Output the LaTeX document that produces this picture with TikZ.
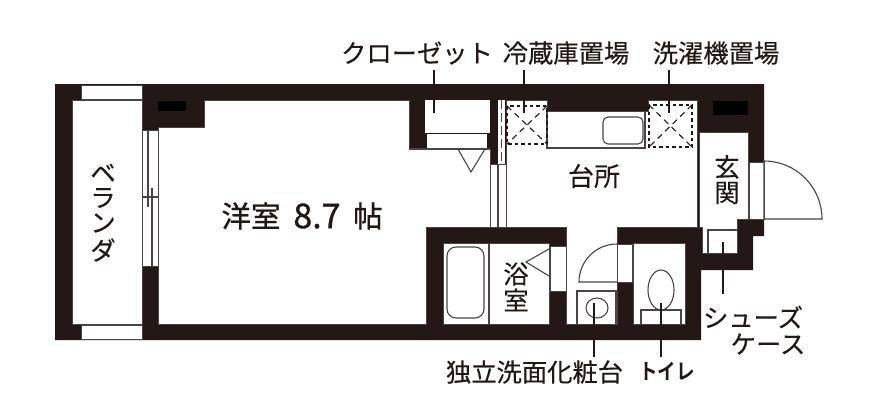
\documentclass[tikz,border=0pt]{standalone}
\usepackage{fontspec}
\setmainfont{Noto Sans CJK JP}[FakeBold=0.25]
\newfontfamily\heavyjp{Noto Sans CJK JP}[FakeBold=0.9]
\newfontfamily\boldjp{Noto Sans CJK JP Bold}
\tikzset{
  wall/.style={fill=wallc,draw=none},
  room/.style={fill=white,draw=linec,line width=1pt},
  thin/.style={draw=linec,line width=1.1pt},
  pale/.style={fill=white,draw=none},
  lead/.style={draw=wallc,line width=1.1pt},
  dotbox/.style={draw=wallc,line width=1.4pt,dash pattern=on 3.5pt off 3pt},
  crossx/.style={draw=wallc,line width=1.1pt,dash pattern=on 6pt off 4.5pt},
  lab/.style={inner sep=0pt,text=wallc,font=\fontsize{25.3pt}{27pt}\selectfont},
}
\definecolor{wallc}{HTML}{231815}
\definecolor{linec}{HTML}{4A4446}
\begin{document}
\begin{tikzpicture}[x=1pt,y=-1pt]
\useasboundingbox (0,0) rectangle (880,415);
\fill[white] (0,0) rectangle (880,415);
% walls
\fill[wall] (55,84) -- (764,84) -- (764,236) -- (753,236) -- (753,270) -- (701,270) -- (701,340) -- (55,340) -- cycle;
% veranda
\path[room] (72,100) rectangle (142,324);
\path[room] (81,85) rectangle (142,99);
\path[room] (81,325) rectangle (142,339);
% western room
\path[room] (158,127) -- (204,127) -- (204,100) -- (409,100) -- (409,149) -- (490,149) -- (490,227) -- (426,227) -- (426,324) -- (158,324) -- cycle;
\fill[black] (158,101) rectangle (186,111);
% balcony window
\path[room] (142,130) rectangle (158,266);
\draw[thin] (148,130) -- (148,207);
\draw[thin] (152,188) -- (152,266);
\draw[thin] (142,197) -- (158,197);
% closet
\path[pale] (425,100) rectangle (490,133);
\path[pale] (427,134) rectangle (487,148);
\draw[thin] (458,149) -- (471,172) -- (485,149);
\draw[thin] (409,149) -- (490,149);
% sliding door
\path[pale] (498,100) rectangle (505,164);
\draw[thin,dash pattern=on 9pt off 4pt] (501.5,100) -- (501.5,164);
\path[room] (490,164) rectangle (506,227);
\draw[thin] (498,164) -- (498,227);
% kitchen
\path[room] (506,100) -- (547,100) -- (547,111) -- (648,111) -- (648,100) -- (697,100) -- (697,227) -- (617,227) -- (617,243) -- (617,282) -- (617,324) -- (566,324) -- (566,227) -- (506,227) -- cycle;
\draw[thin] (547,111) -- (547,148) -- (645,148) -- (645,111);
\draw[thin,rounded corners=5pt] (603,117) rectangle (643,144);
\draw[dotbox] (507,106) rectangle (547,144);
\draw[crossx] (507,106) -- (547,144) (547,106) -- (507,144);
\draw[dotbox] (649,105) rectangle (692,147);
\draw[crossx] (649,105) -- (692,147) (692,105) -- (649,147);
% entrance
\path[room] (699,132) -- (748,132) -- (748,219) -- (737,219) -- (737,253) -- (702,253) -- (702,227) -- (699,227) -- cycle;
\path[pale] (699.6,133) rectangle (736,226);
\path[pale] (736,133) rectangle (747.4,218);
\draw[thin] (708,253) -- (708,230) -- (737,230);
\fill[black] (713,101) rectangle (748,115);
\path[room] (749,162) rectangle (764,219);
\draw[thin] (764,219) -- (822,219) .. controls (822,187) and (796,161) .. (764,161) -- (764,219);
% bath
\path[room] (443,243) rectangle (549,324);
\draw[thin] (489,243) -- (489,324);
\draw[thin,rounded corners=9pt] (447,247) rectangle (484,318);
\path[room] (550,246) rectangle (566,291);
\draw[thin] (549,249) -- (526,262) -- (549,276);
% wash room
\path[room] (617,244) rectangle (632,282);
\draw[thin] (617,244) .. controls (596,244) and (579,261) .. (579,282) -- (617,282);
\draw[thin] (577,324) -- (577,291) -- (616,291) -- (616,324);
\draw[thin] (597,308) ellipse [x radius=11pt,y radius=10pt];
% toilet
\path[room] (633,243) rectangle (685,324);
\draw[thin] (661,290) ellipse [x radius=13pt,y radius=20pt];
\draw[thin] (641,324) -- (641,310) -- (681,310) -- (681,324);
% leaders
\coordinate (a1) at (434,70); \coordinate (a2) at (434,113);
\coordinate (b1) at (524,70); \coordinate (b2) at (524,113);
\coordinate (c1) at (669,70); \coordinate (c2) at (669,113);
\coordinate (d1) at (723,242); \coordinate (d2) at (723,294);
\coordinate (e1) at (594,303); \coordinate (e2) at (594,357);
\coordinate (f1) at (661,303); \coordinate (f2) at (661,357);
\draw[lead] (a1) -- (a2);
\draw[lead] (b1) -- (b2);
\draw[lead] (c1) -- (c2);
\draw[lead] (d1) -- (d2);
\draw[lead] (e1) -- (e2);
\draw[lead] (f1) -- (f2);
% labels
\node[lab] (t1) at (417,53) {クローゼット};
\node[lab] (t2) at (566,53) {冷蔵庫置場};
\node[lab] (t3) at (716,53) {洗濯機置場};
\node[lab,font=\heavyjp\fontsize{29.5pt}{30pt}\selectfont] (t4a) at (251,216) {洋室};
\node[lab,font=\heavyjp\fontsize{34pt}{36pt}\selectfont] (t4b) at (317,216) {8.7};
\node[lab,font=\heavyjp\fontsize{29.5pt}{30pt}\selectfont] (t4c) at (368,216) {帖};
\node[lab,font=\fontsize{26pt}{28pt}\selectfont] (t5) at (594,176) {台所};
\node[lab] (t6a) at (727,167) {玄};
\node[lab] (t6b) at (727,193) {関};
\node[lab] (t7a) at (516,274) {浴};
\node[lab] (t7b) at (516,300) {室};
\node[lab] (t8a) at (103,173) {ベ};
\node[lab] (t8b) at (103,198) {ラ};
\node[lab] (t8c) at (103,223) {ン};
\node[lab] (t8d) at (103,250) {ダ};
\node[lab] (t9) at (753,317) {シューズ};
\node[lab] (t10) at (768,344) {ケース};
\node[lab] (t11) at (534.5,372) {独立洗面化粧台};
\node[lab] (t12) at (667,371) {\scalebox{0.86}[1]{\boldjp\fontsize{21.5pt}{23pt}\selectfont トイレ}};
\end{tikzpicture}
\end{document}
